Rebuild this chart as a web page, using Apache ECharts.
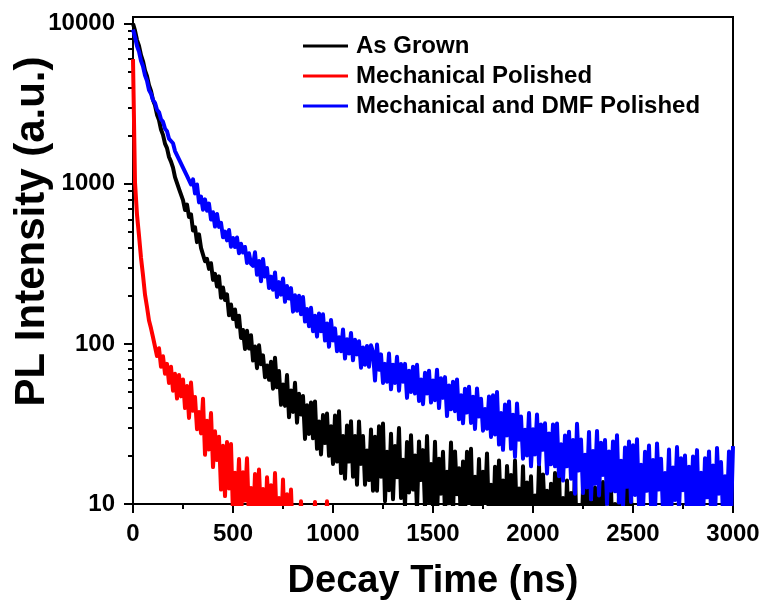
<!DOCTYPE html>
<html>
<head>
<meta charset="utf-8">
<script src="https://cdn.jsdelivr.net/npm/echarts@6.0.0/dist/echarts.min.js"></script>
<style>
html,body{margin:0;padding:0;background:#fff;}
#chart{width:762px;height:602px;}
</style>
</head>
<body>
<div id="chart"></div>
<script>
// sampling interval of the decay traces (ns)
const STEP_NS = 10;

const seriesNames = ['As Grown', 'Mechanical Polished', 'Mechanical and DMF Polished'];
const seriesColors = ['#000000', '#ff0000', '#0000ff'];

// As Grown: t = 0 .. 2520 ns
const asGrown = [
  10000, 9050, 7900, 7250, 6350, 5820, 5100, 4700, 4120, 3800, 3330, 3090, 2700, 2500, 2180, 2020, 1780, 1670, 1470, 1375,
  1260, 1100, 1075, 930, 905, 790,
  686, 742, 620, 645, 511, 535, 432, 483, 398, 402, 328, 340, 294, 319, 251,
  274, 228, 264, 194, 225, 188, 204, 151, 176, 143, 164, 128, 150, 109, 122,
  92.9, 120.9, 93.7, 113.2, 78.7, 96.3, 70.5, 98.2, 74.5, 84.8, 61.9, 73.2, 59.7, 77.3, 52.5,
  82, 53.6, 67.6, 41.6, 55.8, 41, 63.9, 34.8, 51.1, 37.6, 57.1, 32.2, 48.8, 36.2, 47.2,
  25.5, 41.4, 27.4, 43.1, 25.7, 43.7, 22.1, 32.7, 20.4, 35.9, 24, 36.7, 20, 30.6, 17.8,
  35.7, 18.4, 37.9, 15.6, 26.6, 14.4, 30.9, 18.4, 32.9, 14.8, 26.6, 13.2, 32.8, 17.8, 26.6, 13.2, 21.6, 14.1, 29.2, 12.1,
  26.3, 12.1, 30.6, 14.8, 31.8, 10.4, 21.2, 12.2, 27.5, 10.7, 23, 14.7, 29.8, 10.9, 18.9, 9.6, 24.4, 11.8, 26.9, 12.3, 20.1, 9.2,
  24.6, 14.1, 21.7, 9.4, 26.6, 10.3, 17.8, 9.6, 24.5, 8.5, 19.2, 11.6, 21.2, 8.7, 15.9, 10.1, 24.2, 8.9, 21.3, 11.5, 16.7, 7.6,
  18.4, 8.4, 21.2, 10.3, 22.1, 7.2, 14.8, 8.4, 19.1, 7.4, 15.9, 10.2, 20.7, 7.6, 13.2, 6.7, 17.1, 8.3, 18.7, 8.6, 14, 6.4,
  17.3, 9.8, 15.2, 6.6, 18.7, 7.3, 12.5, 6.8, 17.2, 6, 13.6, 8.2, 14.9, 6.1, 11.3, 7.2, 17.3, 6.4, 15.3, 8.3, 12.1, 5.5,
  13.4, 6.1, 15.6, 7.5, 16.2, 5.3, 10.9, 6.2, 14, 5.4, 11.7, 7.5, 15.2, 5.6, 9.6, 4.9, 12.5, 6.1, 13.8, 6.3, 10.3, 4.7,
  12.7, 7.2, 11.2, 4.9, 13.7, 5.3, 9.2, 5, 12.7, 4.4, 10, 6.1, 11, 4.5, 8.3, 5.3, 12.7, 4.7, 11.2, 6.1, 8.9, 4.1
];

// Mechanical Polished: t = 0 .. 1000 ns
const mechPolished = [
  6000, 1020, 640, 475, 345, 268, 203, 170, 140, 125, 110,
  111, 84, 94, 72, 83.6, 65,
  75, 57, 72, 51, 65, 45.6, 64, 47,
  60, 39.7, 54.5, 34.5, 57.3, 38.2, 46.6, 29.3, 37.5, 27.6,
  45.5, 20.3, 33.1, 21.9, 37, 17, 28.5, 18.8, 26.3, 12.3,
  23.1, 11.2, 24.4, 12.5, 23.7, 8.6, 15.7, 9.5, 19.1, 8.2, 15.8, 10.5, 19.3, 7.9, 12.6, 6.9, 15.4, 8.1,
  16.4, 8.2, 12.4, 6.2, 14.7, 9, 13.1, 6.3, 15.6, 6.8, 10.9, 6.3, 14.2, 5.6, 11.5, 7.3, 12.3,
  5.5, 6, 5, 6.5, 10.4, 5.5, 6, 5, 6.5, 5.5, 6, 10.3, 5.5, 6, 5, 6.5, 5.5, 10.4, 6, 5, 5.5
];

// Mechanical and DMF Polished: t = 0 .. 3000 ns
const mechDmfPolished = [
  9200, 8250, 7250, 6680, 5850, 5420, 4750, 4400, 3850, 3650, 3330, 3200, 2900, 2800, 2530, 2440, 2210, 2130, 1910, 1880,
  1790, 1600, 1600, 1420, 1430, 1260, 1280, 1120, 1140, 990,
  1065, 870, 989, 765, 832, 689, 799, 679, 751, 599, 664, 540, 648, 538, 570, 463, 503, 443, 514, 404,
  458, 403, 462, 368, 422, 372, 403, 320, 368, 316,
  307, 373, 270, 329, 246, 339, 263, 298, 223, 263, 218, 279, 196, 243, 203, 256, 183, 230, 192, 223,
  159, 201, 161, 200, 153, 196, 138, 165, 129, 168,
  120, 150, 111, 155, 120, 153, 105, 134, 96, 141, 105, 125, 90, 110, 90, 123, 81, 107, 87, 117,
  79, 106, 86, 104, 71, 95, 74, 97, 72, 98,
  89, 59, 99, 69, 86, 57, 75, 58, 87, 52, 74, 57, 83, 51, 75, 58, 75, 46, 68, 50,
  72, 49, 74, 44, 60, 42, 66, 49, 68, 43,
  59, 44.5, 69, 39.7, 61, 46, 62, 35.4, 55, 39, 58, 38, 60, 33.8, 47.8, 31.9, 52.5, 37.3, 54, 32.1,
  46.7, 29.4, 52.7, 35.2, 45.5, 28.7, 39.2, 29.5, 47, 26.2,
  47.7, 27.2, 50.1, 23.5, 37, 21.8, 41.8, 26.8, 43.7, 22.1, 36.1, 19.7, 42.4, 25.2, 35.2, 19.2, 29.1, 20.1, 37, 17.2,
  29.3, 20.4, 36.2, 17.7, 31.4, 21.8, 31.9, 15.5, 27.6, 17.7, 31.4, 17.2, 31.8, 14.9, 23.6, 14, 26.8, 17.2, 28.3, 14.4,
  25.1, 11.6, 31.7, 16.2, 25.3, 11.7, 20.3, 12.7, 28.2, 10.7, 21.4, 13.4, 28.6, 11.3, 24.1, 15.2, 25.1, 10, 21.3, 12.1,
  24.6, 12, 26.9, 10.2, 18.6, 9.6, 22.5, 12.8, 24.6, 10.3, 23.3, 11.4, 25.4, 9.6, 17.6, 9, 21.2, 12.1, 23.2, 9.7,
  18.8, 8.7, 23.9, 12.3, 19.2, 8.9, 15.6, 9.8, 21.9, 8.4, 16.9, 10.6, 22.7, 9.1, 19.3, 12.2, 20.1, 8.1, 17.1, 9.7,
  19.8, 9.7, 21.7, 8.2, 15.7, 8.1, 19.3, 11, 21.3, 9, 17.4, 8.1, 22.4, 11.6, 18.3, 8.6, 14.9, 9.5, 21.3, 8.1,
  23
];

// axis ticks
const xMin = 0, xMax = 3000, xInterval = 500;
const xTickLabels = ['0', '500', '1000', '1500', '2000', '2500', '3000'];
const yMin = 10, yMax = 11000;
const yMajorTicks = [10, 100, 1000, 10000];
const yTickLabels = ['10', '100', '1000', '10000'];
const yMinorTicks = [20, 30, 40, 50, 60, 70, 80, 90, 200, 300, 400, 500, 600, 700, 800, 900,
  2000, 3000, 4000, 5000, 6000, 7000, 8000, 9000];

const xTitle = 'Decay Time (ns)';
const yTitle = 'PL Intensity (a.u.)';

const FONT = "'Liberation Sans', Arial, Helvetica, sans-serif";
const toPairs = arr => arr.map((v, i) => [i * STEP_NS, v]);
const seriesData = [asGrown, mechPolished, mechDmfPolished];

const chart = echarts.init(document.getElementById('chart'), null, {renderer: 'canvas'});

const option = {
  animation: false,
  backgroundColor: '#ffffff',
  textStyle: {fontFamily: FONT},
  grid: {
    left: 133, right: 29, top: 17, bottom: 98,
    containLabel: false, outerBoundsMode: 'none',
    show: true, borderColor: '#000', borderWidth: 2, backgroundColor: 'transparent'
  },
  legend: {
    orient: 'vertical',
    left: 298, top: 26,
    itemWidth: 45, itemHeight: 3, itemGap: 0,
    icon: 'rect',
    data: seriesNames,
    textStyle: {fontSize: 24, fontWeight: 'bold', color: '#000', fontFamily: FONT, lineHeight: 30, padding: [0, 0, 0, 3]}
  },
  xAxis: {
    type: 'value', min: xMin, max: xMax, interval: xInterval,
    axisLine: {show: true, onZero: false, lineStyle: {color: '#000', width: 2}},
    axisTick: {show: true, inside: false, length: 9, lineStyle: {color: '#000', width: 2}},
    minorTick: {show: true, splitNumber: 2, length: 5, lineStyle: {color: '#000', width: 2}},
    splitLine: {show: false},
    minorSplitLine: {show: false},
    axisLabel: {
      formatter: v => xTickLabels[Math.round((v - xMin) / xInterval)],
      fontSize: 24, fontWeight: 'bold', color: '#000', margin: 18, fontFamily: FONT
    },
    name: xTitle, nameLocation: 'middle', nameGap: 59,
    nameTextStyle: {fontSize: 38, fontWeight: 'bold', color: '#000', fontFamily: FONT}
  },
  yAxis: [
    {
      type: 'log', logBase: 10, min: yMin, max: yMax, position: 'left',
      axisLine: {show: true, onZero: false, lineStyle: {color: '#000', width: 2}},
      axisTick: {show: true, inside: false, length: 9, customValues: yMajorTicks, lineStyle: {color: '#000', width: 2}},
      axisLabel: {
        customValues: yMajorTicks,
        formatter: v => {
          const i = yMajorTicks.indexOf(v);
          return i >= 0 ? yTickLabels[i] : String(v);
        },
        fontSize: 24, fontWeight: 'bold', color: '#000', margin: 18, fontFamily: FONT
      },
      splitLine: {show: false},
      name: yTitle, nameLocation: 'middle', nameGap: 80, nameMoveOverlap: false,
      nameTextStyle: {fontSize: 42, fontWeight: 'bold', color: '#000', fontFamily: FONT, padding: [0, 0, 0, 58]}
    },
    {
      type: 'log', logBase: 10, min: yMin, max: yMax, position: 'left',
      axisLine: {show: false},
      axisTick: {show: true, inside: false, length: 5, customValues: yMinorTicks, lineStyle: {color: '#000', width: 2}},
      axisLabel: {show: false},
      splitLine: {show: false}
    }
  ],
  series: seriesNames.map((name, k) => ({
    name: name,
    type: 'line',
    yAxisIndex: 0,
    data: toPairs(seriesData[k]),
    showSymbol: false,
    symbol: 'none',
    clip: true,
    lineStyle: {color: seriesColors[k], width: 4, join: 'round'},
    itemStyle: {color: seriesColors[k]},
    emphasis: {disabled: true}
  }))
};

chart.setOption(option);
</script>
</body>
</html>
